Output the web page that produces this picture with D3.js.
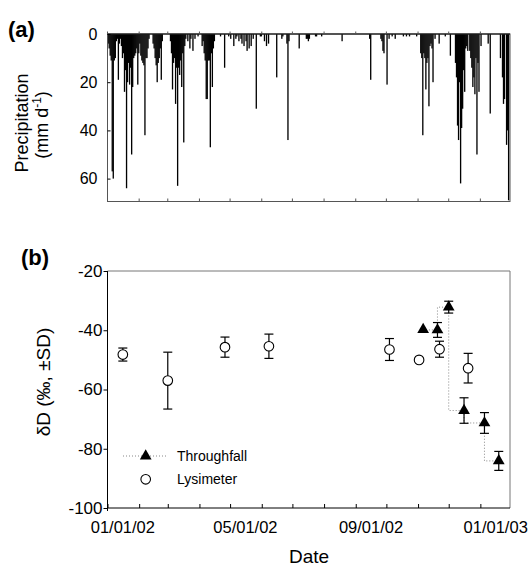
<!DOCTYPE html>
<html>
<head>
<meta charset="utf-8">
<script src="https://cdn.jsdelivr.net/npm/d3@7"></script>
<style>
  body { margin: 0; background: #fff; }
  svg { display: block; font-family: "Liberation Sans", Arial, sans-serif; }
</style>
</head>
<body>
<div id="chart"></div>
<script>
// daily precipitation: day number counted from 01/01/02, amount in mm
var rainDay = [0,1,2,3,4,5,6,7,8,9,10,11,12,13,14,15,16,17,18,19,20,21,22,23,24,25,26,27,28,29,30,31,32,33,34,35,36,37,38,39,40,
  44,45,46,47,48,49,50,51,52,53,
  61,62,63,64,65,66,67,68,69,70,71,72,73,74,75,76,78,80,81,83,85,88,
  92,93,94,95,96,97,98,99,100,101,102,103,104,
  110,114,118,120,123,125,126,128,130,131,133,135,136,138,140,142,
  145,149,150,153,155,157,165,170,171,175,176,177,187,194,
  195,196,197,203,204,209,229,256,257,267,268,269,270,273,275,278,281,289,
  292,295,302,306,307,308,309,310,311,312,313,314,315,316,317,318,320,324,330,335,
  340,341,342,343,344,345,346,347,348,349,350,351,352,354,355,356,357,358,359,360,361,362,363,365,
  372,374,384,386,387,388,390,391,392];
var rainMm = [4,6,9,11,57,60,11,10,3,2,19,4,2,5,10,8,24,15,64,20,12,21,14,50,22,10,9,8,6,21,8,4,9,11,12,13,42,10,10,6,2,
  4,6,10,13,20,12,10,6,19,3,
  3,8,23,12,10,29,14,63,14,17,11,22,8,45,5,2,3,6,2,7,2,1,
  5,3,8,11,27,27,11,11,47,8,22,6,3,
  1,14,1,2,5,2,1,3,2,4,5,3,7,6,5,2,
  31,1,1,3,5,4,18,2,1,4,44,3,6,2,
  2,3,2,1,1,1,3,2,19,2,3,7,8,21,2,1,2,1,
  1,1,1,8,10,42,8,10,23,12,10,30,5,4,6,20,2,4,1,9,
  12,18,38,44,20,62,39,31,15,24,6,5,7,7,10,14,22,18,25,10,50,12,24,5,
  4,33,10,18,29,27,46,40,69];

// stable isotope samples (delta D, per mil)
var lysDate = ["2002-01-16","2002-03-01","2002-04-26","2002-06-08","2002-10-04","2002-11-02","2002-11-22","2002-12-20"];
var lysMean = [-48.2, -57.0, -45.7, -45.4, -46.5, -50.0, -46.4, -52.8];
var lysSD   = [2.2, 9.6, 3.4, 4.1, 3.7, 0, 2.7, 5.0];

var tfDate = ["2002-11-06","2002-11-20","2002-12-01","2002-12-16","2003-01-05","2003-01-19"];
var tfMean = [-39.8, -39.9, -32.2, -67.1, -71.3, -84.1];
var tfSD   = [0, 2.5, 2.0, 4.3, 3.5, 3.2];

var precipTicks = [0, 20, 40, 60];
var deltaTicks = [-20, -40, -60, -80, -100];
var dateLabels = ["2002-01-01", "2002-05-01", "2002-09-01", "2003-01-01"];

var parse = d3.timeParse("%Y-%m-%d");
var fmt = d3.timeFormat("%m/%d/%y");
var start = new Date(2002, 0, 1);
var end = new Date(2003, 0, 30);

var svg = d3.select("#chart").append("svg")
  .attr("width", 529)
  .attr("height", 566);

var x = d3.scaleTime().domain([start, end]).range([107.5, 510]);
var months = d3.timeMonth.range(start, d3.timeDay.offset(end, 1));

// ---------- panel (a) precipitation ----------
var ya = d3.scaleLinear().domain([0, 69.5]).range([34, 201.5]);

var rain = rainDay.map(function(d, i) { return {day: d, mm: rainMm[i]}; });

svg.append("g").selectAll("rect")
  .data(rain)
  .enter().append("rect")
    .attr("x", function(d) { return x(d3.timeDay.offset(start, d.day)); })
    .attr("y", ya(0))
    .attr("width", function(d) {
      return x(d3.timeDay.offset(start, d.day + 1)) - x(d3.timeDay.offset(start, d.day)) + 0.3;
    })
    .attr("height", function(d) { return ya(d.mm) - ya(0); })
    .attr("fill", "#000");

// frame
svg.append("rect")
  .attr("x", 107.5).attr("y", 34)
  .attr("width", 510 - 107.5).attr("height", 201.5 - 34)
  .attr("fill", "none").attr("stroke", "#555").attr("stroke-width", 1);
svg.append("line")
  .attr("x1", 107.5).attr("x2", 510).attr("y1", 34).attr("y2", 34)
  .attr("stroke", "#000").attr("stroke-width", 1.2);

// left axis, ticks inside
var axA = svg.append("g")
  .attr("transform", "translate(107.5,0)")
  .call(d3.axisLeft(ya).tickValues(precipTicks).tickSize(-3).tickPadding(10)
    .tickFormat(function(d) { return String(d); }));
axA.select(".domain").remove();
axA.selectAll("text").attr("font-size", 16).attr("fill", "#000")
  .attr("font-family", "Liberation Sans, Arial, sans-serif");

// month ticks on top (outward) and bottom (inward)
svg.append("g").selectAll("line.top")
  .data(months).enter().append("line")
    .attr("x1", function(d) { return x(d); }).attr("x2", function(d) { return x(d); })
    .attr("y1", 34).attr("y2", 31.5)
    .attr("stroke", "#555");
svg.append("g").selectAll("line.bot")
  .data(months).enter().append("line")
    .attr("x1", function(d) { return x(d); }).attr("x2", function(d) { return x(d); })
    .attr("y1", 201.5).attr("y2", 198.5)
    .attr("stroke", "#555");

svg.append("text")
  .attr("x", 8).attr("y", 37)
  .attr("font-size", 22).attr("font-weight", "bold")
  .text("(a)");

svg.append("text")
  .attr("transform", "translate(28,123) rotate(-90)")
  .attr("text-anchor", "middle")
  .attr("font-size", 18)
  .text("Precipitation");

var unit = svg.append("text")
  .attr("transform", "translate(48,125) rotate(-90)")
  .attr("text-anchor", "middle")
  .attr("font-size", 18);
unit.append("tspan").text("(mm  d");
unit.append("tspan").attr("font-size", 12).attr("dy", -7).text("-1");
unit.append("tspan").attr("dy", 7).text(")");

// ---------- panel (b) delta D ----------
var yb = d3.scaleLinear().domain([-100, -20]).range([508, 271]);

svg.append("line")
  .attr("x1", 107.5).attr("x2", 510).attr("y1", 271).attr("y2", 271)
  .attr("stroke", "#777");
svg.append("line")
  .attr("x1", 510).attr("x2", 510).attr("y1", 271).attr("y2", 508)
  .attr("stroke", "#777");

var axB = svg.append("g")
  .attr("transform", "translate(107.5,0)")
  .call(d3.axisLeft(yb).tickValues(deltaTicks).tickSize(4).tickPadding(1)
    .tickFormat(function(d) { return String(d); }));
axB.select(".domain").attr("d", "M0,271V511");
axB.selectAll("text").attr("font-size", 17).attr("fill", "#000")
  .attr("font-family", "Liberation Sans, Arial, sans-serif");

var axBx = svg.append("g")
  .attr("transform", "translate(0,508)")
  .call(d3.axisBottom(x).tickValues(months).tickSize(-4).tickFormat(""));
axBx.select(".domain").attr("d", "M107.5,0H510");

svg.append("g").selectAll("text")
  .data(dateLabels).enter().append("text")
    .attr("x", function(d) { return x(d3.timeDay.offset(parse(d), 15)); })
    .attr("y", 533)
    .attr("text-anchor", "middle")
    .attr("font-size", 16.5)
    .text(function(d) { return fmt(parse(d)); });

svg.append("text")
  .attr("x", 309).attr("y", 563)
  .attr("text-anchor", "middle")
  .attr("font-size", 19)
  .text("Date");

svg.append("text")
  .attr("transform", "translate(50,382) rotate(-90)")
  .attr("text-anchor", "middle")
  .attr("font-size", 19)
  .text("\u03b4D (\u2030, \u00b1SD)");

svg.append("text")
  .attr("x", 21).attr("y", 265)
  .attr("font-size", 22).attr("font-weight", "bold")
  .text("(b)");

var lys = lysDate.map(function(d, i) { return {date: parse(d), m: lysMean[i], sd: lysSD[i]}; });
var tf = tfDate.map(function(d, i) { return {date: parse(d), m: tfMean[i], sd: tfSD[i]}; });

// dotted step line through throughfall
svg.append("path")
  .datum(tf)
  .attr("d", d3.line()
    .x(function(d) { return x(d.date); })
    .y(function(d) { return yb(d.m); })
    .curve(d3.curveStepBefore))
  .attr("fill", "none")
  .attr("stroke", "#888")
  .attr("stroke-width", 1)
  .attr("stroke-dasharray", "1,2");

function errorBars(data) {
  var g = svg.append("g").attr("stroke", "#000").attr("stroke-width", 1.2);
  data.filter(function(d) { return d.sd > 0; }).forEach(function(d) {
    var cx = x(d.date);
    g.append("line").attr("x1", cx).attr("x2", cx)
      .attr("y1", yb(d.m + d.sd)).attr("y2", yb(d.m - d.sd));
    g.append("line").attr("x1", cx - 4.5).attr("x2", cx + 4.5)
      .attr("y1", yb(d.m + d.sd)).attr("y2", yb(d.m + d.sd));
    g.append("line").attr("x1", cx - 4.5).attr("x2", cx + 4.5)
      .attr("y1", yb(d.m - d.sd)).attr("y2", yb(d.m - d.sd));
  });
}
errorBars(lys);
errorBars(tf);

var tri = d3.symbol().type(d3.symbolTriangle).size(60);

svg.append("g").selectAll("circle")
  .data(lys).enter().append("circle")
    .attr("cx", function(d) { return x(d.date); })
    .attr("cy", function(d) { return yb(d.m); })
    .attr("r", 4.8)
    .attr("fill", "#fff")
    .attr("stroke", "#000")
    .attr("stroke-width", 1.1);

svg.append("g").selectAll("path")
  .data(tf).enter().append("path")
    .attr("transform", function(d) { return "translate(" + x(d.date) + "," + yb(d.m) + ")"; })
    .attr("d", tri)
    .attr("fill", "#000");

// legend
svg.append("line")
  .attr("x1", 123).attr("x2", 166).attr("y1", 456).attr("y2", 456)
  .attr("stroke", "#888").attr("stroke-dasharray", "1,2");
svg.append("path")
  .attr("transform", "translate(145.7,456)")
  .attr("d", tri).attr("fill", "#000");
svg.append("circle")
  .attr("cx", 145.7).attr("cy", 479.3).attr("r", 4.8)
  .attr("fill", "#fff").attr("stroke", "#000").attr("stroke-width", 1.1);
svg.append("text").attr("x", 177).attr("y", 460.5).attr("font-size", 14).text("Throughfall");
svg.append("text").attr("x", 177).attr("y", 483.5).attr("font-size", 14).text("Lysimeter");
</script>
</body>
</html>
